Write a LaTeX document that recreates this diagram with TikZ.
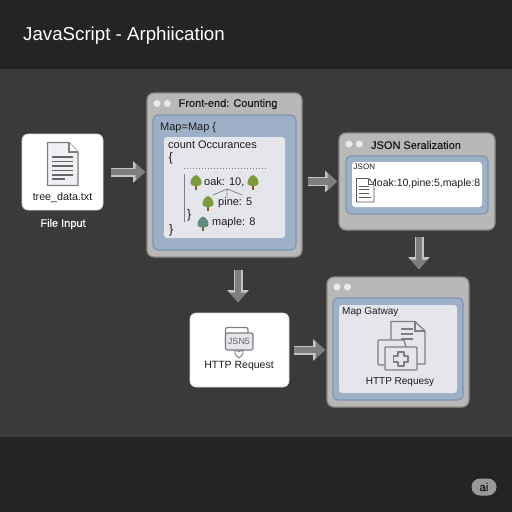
\documentclass[tikz,border=0pt]{standalone}
\usepackage{fontspec}
\setmainfont{Liberation Sans}
\newfontfamily\headfont[FakeBold=0.5]{Liberation Sans}
\usetikzlibrary{arrows.meta,positioning}
\definecolor{bandc}{HTML}{242424}
\definecolor{midc}{HTML}{3A3A3A}
\definecolor{winc}{HTML}{B8B8B6}
\definecolor{winb}{HTML}{8C8C8A}
\definecolor{bluec}{HTML}{9DB0C8}
\definecolor{blueb}{HTML}{7F95B0}
\definecolor{paperc}{HTML}{E4E6EC}
\definecolor{inkc}{HTML}{1C1C1C}
\definecolor{iconc}{HTML}{7E7E7E}
\definecolor{leafc}{HTML}{7C9A3C}
\definecolor{tealc}{HTML}{5F8C80}
\definecolor{trunkc}{HTML}{8A5A22}
\definecolor{arrowc}{HTML}{7E7E7E}
\definecolor{arrowl}{HTML}{C4C4C4}
\tikzset{
  x=1pt,y=-1pt,
  panel/.style={draw,inner sep=0pt,outer sep=0pt,rounded corners=#1},
  window/.style={panel=7pt,fill=winc,draw=winb,line width=1.2pt},
  bluepane/.style={panel=5pt,fill=bluec,draw=blueb,line width=1.2pt},
  paperpane/.style={panel=3pt,fill=paperc,draw=none},
  whitepane/.style={panel=6pt,fill=white,draw=black!15,line width=.6pt},
  dotc/.style={circle,fill=white!70!winc,draw=none,minimum size=7pt,inner sep=0pt},
  label/.style={text=inkc,inner sep=0pt,font=\fontsize{11}{13}\selectfont},
  labell/.style={label,anchor=west},
  head/.style={label,font=\headfont\fontsize{11}{13}\selectfont},
  arrowout/.style={draw=arrowl,line width=9pt,-{Triangle[length=12pt,width=21pt]},arrowl},
  arrowin/.style={draw=arrowc,line width=6.6pt,-{Triangle[length=9.5pt,width=17pt]},arrowc},
  iconline/.style={draw=iconc,line width=1.2pt},
  pics/tree/.style={code={
    \fill[trunkc] (-1.3,3) rectangle (1.3,7.5);
    \fill[#1] (0,-7) .. controls (3,-6) and (6,-2) .. (5.5,1.5)
      .. controls (5,5) and (-5,5) .. (-5.5,1.5)
      .. controls (-6,-2) and (-3,-6) .. (0,-7) -- cycle;
  }}
}
\newcommand{\wdots}[2]{%
  \node[dotc] (#1a) at (#2) {};
  \node[dotc,right=3pt of #1a] (#1b) {};}
\begin{document}
\begin{tikzpicture}
\useasboundingbox (0,0) rectangle (512,512);
\fill[midc] (0,0) rectangle (512,512);
\fill[bandc] (0,0) rectangle (512,69);
\fill[bandc] (0,437) rectangle (512,512);
\node[anchor=west,text=white,inner sep=0pt,font=\fontsize{18.7}{20}\selectfont] (title) at (23,36) {JavaScript - Arphiication};

% File input
\node[whitepane,minimum width=81pt,minimum height=76pt] (file) at (62.5,172) {};
\draw[iconline,fill=paperc!60!white,line join=round] (47.5,142.5) -- (69,142.5) -- (78,152) -- (78,185.5) -- (47.5,185.5) -- cycle;
\draw[iconline,fill=white] (69,142.5) -- (69,152) -- (78,152);
\foreach \yy in {157,161.5,166,170.5,175}{\draw[iconline,draw=iconc!80!black] (52,\yy) -- (73,\yy);}
\draw[iconline,draw=iconc!80!black] (52,179) -- (65,179);
\node[label,font=\fontsize{10.7}{13}\selectfont] (filename) at (62.5,198) {tree\_data.txt};
\node[label,text=white,font=\headfont\fontsize{11}{13}\selectfont] (filecap) at (63,224) {File Input};

% Front-end
\node[window,minimum width=155pt,minimum height=164pt] (front) at (224.5,175) {};
\node[bluepane,minimum width=143pt,minimum height=135pt] (frontblue) at (224.5,182.5) {};
\node[paperpane,minimum width=121pt,minimum height=101pt] (frontpaper) at (224.5,187.5) {};
\wdots{fd}{157,103.5}
\node[head] (fronttitle) at (228,104) {Front-end: Counting};
\node[labell] (mapline) at (160,128) {Map=Map \{};
\node[labell] (countline) at (168,144.5) {count Occurances};
\node[labell,font=\fontsize{12.5}{13}\selectfont] (brace1) at (168.5,158) {\{};
\draw[iconc,line width=1pt,dotted] (184,168) -- (266,168);
\draw[iconc,line width=.8pt] (184.5,174) -- (184.5,222);
\pic at (196,182) {tree=leafc};
\node[labell] (oak) at (204,182) {oak: 10,};
\pic at (253,182) {tree=leafc};
\draw[iconc,line width=.7pt] (213,195) -- (227,189) -- (242,195) (227,189) -- (227,197);
\pic at (208,203) {tree=leafc};
\node[labell] (pine) at (218,203) {pine: 5};
\node[labell,font=\fontsize{12.5}{13}\selectfont] (brace2) at (187,215) {\}};
\pic at (203,223.5) {tree=tealc};
\node[labell] (maple) at (212,222.5) {maple: 8};
\node[labell,font=\fontsize{12.5}{13}\selectfont] (brace3) at (169,230) {\}};

% JSON
\node[window,minimum width=156pt,minimum height=97pt] (json) at (417,181.5) {};
\node[bluepane,minimum width=142pt,minimum height=58pt] (jsonblue) at (417,185) {};
\node[panel=3pt,fill=white,draw=none,minimum width=130pt,minimum height=45pt] (jsonpaper) at (417,184.5) {};
\wdots{jd}{349,144}
\node[head] (jsontitle) at (416,145) {JSON Seralization};
\node[labell,font=\fontsize{8}{10}\selectfont] (jsonsmall) at (353.5,167) {JSON};
\node[labell,font=\fontsize{10.5}{12}\selectfont] (jsontext) at (368,183.5) {Moak:10,pine:5,maple:8};
\draw[draw=black!65,line width=.7pt,fill=white,line join=round] (356.5,178.5) -- (368,178.5) -- (374,184) -- (374,202) -- (356.5,202) -- cycle;
\draw[draw=black!65,line width=.6pt] (368,178.5) -- (368,184) -- (374,184);
\foreach \yy in {186,189.5,193}{\draw[black!65,line width=.7pt] (359,\yy) -- (369,\yy);}
\draw[black!65,line width=.7pt] (359,197) -- (371,197);

% Gateway
\node[window,minimum width=142pt,minimum height=130pt] (gate) at (398,342) {};
\node[bluepane,minimum width=130pt,minimum height=102pt] (gateblue) at (398,349) {};
\node[paperpane,minimum width=118pt,minimum height=88pt] (gatepaper) at (398,349) {};
\wdots{gd}{337,287}
\node[labell,font=\fontsize{10}{13}\selectfont] (gatetitle) at (342,312) {Map Gatway};
\draw[iconline,draw=iconc,line width=1.2pt,fill=paperc,line join=round] (391,321.5) -- (415,321.5) -- (425,331) -- (425,364) -- (391,364) -- cycle;
\draw[iconc,line width=1.1pt] (415,321.5) -- (415,331) -- (425,331);
\foreach \yy in {329,334,339}{\draw[iconc,line width=1.1pt] (401,\yy) -- (413,\yy);}
\draw[iconline,fill=paperc,rounded corners=1pt] (378,340) -- (404,340) -- (406,347) -- (406,365) -- (378,365) -- cycle;
\draw[iconline,fill=paperc,rounded corners=1pt] (385,347) rectangle (417,370);
\draw[iconline,fill=paperc,line join=round] (398,352) -- (404,352) -- (404,356) -- (408,356) -- (408,362) -- (404,362) -- (404,366) -- (398,366) -- (398,362) -- (393.5,362) -- (393.5,356) -- (398,356) -- cycle;
\node[label,font=\fontsize{10}{13}\selectfont] (gatecap) at (400,382) {HTTP Requesy};

% HTTP request
\node[whitepane,minimum width=99pt,minimum height=74pt] (http) at (239.5,350) {};
\draw[iconline,fill=white,rounded corners=2pt] (225.5,327.5) rectangle (248,345);
\draw[iconline,fill=paperc,rounded corners=2pt] (225.5,333) rectangle (253,350);
\node[label,text=iconc!80!black,font=\fontsize{9}{11}\selectfont] (jsn) at (239,341) {JSN5};
\draw[iconline,line width=.9pt,line join=round,fill=white] (239,358) .. controls (234,354.5) and (234,350.5) .. (236.5,350.5) .. controls (238,350.5) and (239,352) .. (239,352) .. controls (239,352) and (240,350.5) .. (241.5,350.5) .. controls (244,350.5) and (244,354.5) .. (239,358) -- cycle;
\node[label,font=\fontsize{10.5}{13}\selectfont] (httpcap) at (239,366) {HTTP Request};

% Arrows
\foreach \st in {arrowout,arrowin}{
  \draw[\st,shorten <=8pt,shorten >=2pt] (file.east) -- (file.east -| front.west);
  \draw[\st,shorten <=6pt,shorten >=2pt] (json.west -| front.east) -- (json.west);
  \draw[\st,shorten <=13pt,shorten >=11pt] ([xshift=-1.5pt]http.north |- front.south) -- ([xshift=-1.5pt]http.north);
  \draw[\st,shorten <=7pt,shorten >=8pt] ([xshift=2pt]json.south) -- ([xshift=2pt]json.south |- gate.north);
  \draw[\st,shorten <=5pt,shorten >=2pt] (http.east) -- (http.east -| gate.west);
}

% Badge
\node[fill=black!40,text=black!90,rounded corners=8.5pt,minimum width=25pt,minimum height=17pt,inner sep=0pt,font=\headfont\fontsize{11.5}{13}\selectfont] (badge) at (484,487) {ai};
\end{tikzpicture}
\end{document}
